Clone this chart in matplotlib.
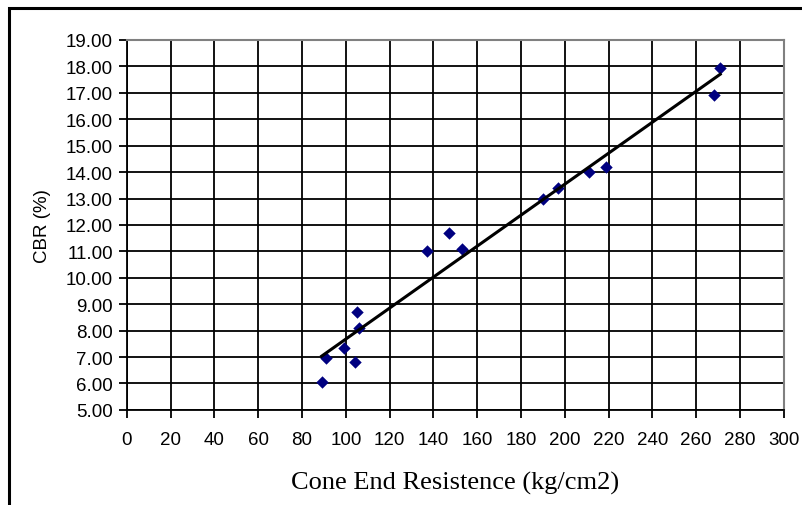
import matplotlib as mpl
mpl.use('Agg')
import matplotlib.pyplot as plt
from matplotlib.patches import Rectangle
from matplotlib.ticker import FormatStrFormatter, MultipleLocator
import numpy as np

# data
cone_res = [89, 91, 99, 104, 105, 106, 137, 147, 153, 190, 197, 211, 219, 268, 271]
cbr = [6.05, 6.95, 7.35, 6.8, 8.7, 8.1, 11.0, 11.7, 11.1, 13.0, 13.4, 14.0, 14.2, 16.9, 17.95]

fig = plt.figure(figsize=(8.03, 5.06), dpi=100)
ax = fig.add_axes([0.158, 0.188, 0.818, 0.731])

# outer chart frame (only top and left visible)
fig.patches.append(Rectangle((9/803, -0.1), 1.2, 1.1 - 9/506, transform=fig.transFigure,
                             fill=False, edgecolor='black', linewidth=2.2))

ax.scatter(cone_res, cbr, marker='D', s=40, color='#000080', zorder=3, linewidths=0)

# linear trendline over the data range
m, b = np.polyfit(cone_res, cbr, 1)
xs = np.array([min(cone_res), max(cone_res)])
ax.plot(xs, m * xs + b, color='black', linewidth=2.2, zorder=4)

ax.set_xlim(0, 300)
ax.set_ylim(5, 19)
ax.xaxis.set_major_locator(MultipleLocator(20))
ax.yaxis.set_major_locator(MultipleLocator(1))
ax.yaxis.set_major_formatter(FormatStrFormatter('%.2f'))
ax.grid(True, color='black', linewidth=1.3)
ax.set_axisbelow(True)

for s in ['top', 'right']:
    ax.spines[s].set_color('#808080')
    ax.spines[s].set_linewidth(1.5)
for s in ['left', 'bottom']:
    ax.spines[s].set_color('black')
    ax.spines[s].set_linewidth(1.3)

ax.tick_params(direction='out', length=6, width=1.3, labelsize=13.5, pad=4)
for lab in ax.get_xticklabels() + ax.get_yticklabels():
    lab.set_family('Liberation Sans')
ax.tick_params(axis='x', pad=9)

ax.set_ylabel('CBR (%)', family='Liberation Sans', fontsize=13.5, labelpad=11)
ax.set_xlabel('Cone End Resistence (kg/cm2)', family='Liberation Serif', fontsize=19, labelpad=17)

plt.savefig('out.png', dpi=100)
